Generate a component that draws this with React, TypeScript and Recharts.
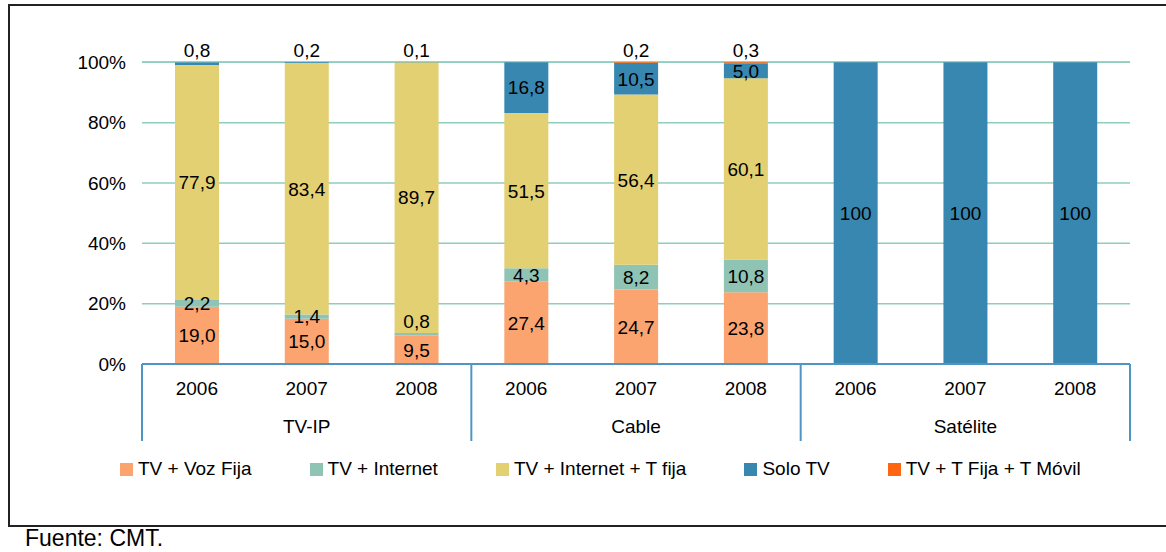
import React from 'react';
import { BarChart, Bar, XAxis, YAxis, CartesianGrid, LabelList } from 'recharts';

const years = ['2006', '2007', '2008', '2006', '2007', '2008', '2006', '2007', '2008'];
const groups = ['TV-IP', 'Cable', 'Satélite'];
const vozFija = [19.0, 15.0, 9.5, 27.4, 24.7, 23.8, 0, 0, 0];
const internet = [2.2, 1.4, 0.8, 4.3, 8.2, 10.8, 0, 0, 0];
const internetFija = [77.9, 83.4, 89.7, 51.5, 56.4, 60.1, 0, 0, 0];
const soloTV = [0.8, 0.2, 0.1, 16.8, 10.5, 5.0, 100, 100, 100];
const movil = [0, 0, 0, 0, 0.2, 0.3, 0, 0, 0];
const yTicks = [0, 20, 40, 60, 80, 100];
const source = 'Fuente: CMT.';

const SERIES = [
  { key: 'vozFija', name: 'TV + Voz Fija', color: '#FBA470', values: vozFija },
  { key: 'internet', name: 'TV + Internet', color: '#8FC4B5', values: internet },
  { key: 'internetFija', name: 'TV + Internet + T fija', color: '#E3D073', values: internetFija },
  { key: 'soloTV', name: 'Solo TV', color: '#3887B1', values: soloTV },
  { key: 'movil', name: 'TV + T Fija + T Móvil', color: '#FF6611', values: movil },
];

const data = years.map((y, i) => ({
  year: y,
  group: groups[Math.floor(i / 3)],
  vozFija: vozFija[i],
  internet: internet[i],
  internetFija: internetFija[i],
  soloTV: soloTV[i],
  movil: movil[i],
}));

const FONT = '"Liberation Sans", Arial, sans-serif';
const W = 1166;
const H = 552;
const MARGIN = { top: 62, right: 36, bottom: 111, left: 0 };
const Y_AXIS_W = 142;
const X_AXIS_H = 77;
const PLOT_W = W - MARGIN.left - MARGIN.right - Y_AXIS_W;
const BOX = '#4F94C2';

const fmt = (v: number) => (v === 100 ? '100' : v.toFixed(1).replace('.', ','));

const labelContent = (props: any) => {
  const { x, y, width, height, value } = props;
  let v: number = Array.isArray(value) ? Number(value[1]) - Number(value[0]) : Number(value);
  v = Math.round(v * 10) / 10;
  if (!v) return null;
  const top = Math.min(Number(y), Number(y) + Number(height));
  const h = Math.abs(Number(height));
  const cy = v < 1 ? top - 12 : top + h / 2;
  return (
    <text
      x={Number(x) + Number(width) / 2}
      y={cy}
      dy="0.36em"
      textAnchor="middle"
      fontSize={19}
      fontFamily={FONT}
      fill="#000"
    >
      {fmt(v)}
    </text>
  );
};

const YearTick = (props: any) => {
  const { x, y, payload, index } = props;
  const i = typeof index === 'number' ? index : payload.index;
  const bw = PLOT_W / years.length;
  const n = years.length;
  return (
    <g>
      <text x={x} y={y + 31} textAnchor="middle" fontSize={19} fontFamily={FONT} fill="#000">
        {payload.value}
      </text>
      {i % 3 === 1 && (
        <text x={x} y={y + 69} textAnchor="middle" fontSize={19} fontFamily={FONT} fill="#000">
          {groups[Math.floor(i / 3)]}
        </text>
      )}
      {i % 3 === 0 && (
        <line x1={x - bw / 2} x2={x - bw / 2} y1={y} y2={y + X_AXIS_H} stroke={BOX} strokeWidth={2} />
      )}
      {i === n - 1 && (
        <line x1={x + bw / 2} x2={x + bw / 2} y1={y} y2={y + X_AXIS_H} stroke={BOX} strokeWidth={2} />
      )}
    </g>
  );
};

export default function App() {
  return (
    <div
      style={{
        position: 'absolute',
        left: 0,
        top: 0,
        width: W,
        height: H,
        overflow: 'hidden',
        background: '#fff',
        fontFamily: FONT,
      }}
    >
      <div
        style={{
          position: 'absolute',
          left: 8,
          top: 4,
          width: 1200,
          height: 523,
          boxSizing: 'border-box',
          borderTop: '2px solid #222',
          borderLeft: '2px solid #222',
          borderBottom: '2px solid #222',
        }}
      />
      <div style={{ position: 'absolute', left: 0, top: 0 }}>
        <BarChart width={W} height={H} data={data} margin={MARGIN} barSize={44}>
          <CartesianGrid horizontal vertical={false} stroke="#8FCDBF" strokeWidth={1.5} />
          <YAxis
            type="number"
            domain={[0, 100]}
            ticks={yTicks}
            width={Y_AXIS_W}
            axisLine={false}
            tickLine={false}
            tickSize={0}
            tickMargin={16}
            tickFormatter={(v: number) => `${v}%`}
            tick={{ fontSize: 19, fill: '#000', fontFamily: FONT }}
          />
          <XAxis
            dataKey="year"
            height={X_AXIS_H}
            interval={0}
            axisLine={{ stroke: BOX, strokeWidth: 2 }}
            tickLine={false}
            tickSize={0}
            tickMargin={0}
            tick={<YearTick />}
          />
          {SERIES.map((s) => (
            <Bar key={s.key} dataKey={s.key} name={s.name} stackId="a" fill={s.color} isAnimationActive={false}>
              <LabelList dataKey={s.key} content={labelContent} />
            </Bar>
          ))}
        </BarChart>
      </div>
      <div
        style={{
          position: 'absolute',
          left: 120,
          top: 458,
          height: 22,
          display: 'flex',
          alignItems: 'center',
          gap: 58,
          fontSize: 19,
          color: '#000',
          whiteSpace: 'nowrap',
        }}
      >
        {SERIES.map((s) => (
          <div key={s.key} style={{ display: 'flex', alignItems: 'center' }}>
            <span style={{ display: 'inline-block', width: 13, height: 13, background: s.color, marginRight: 5 }} />
            <span>{s.name}</span>
          </div>
        ))}
      </div>
      <div
        style={{
          position: 'absolute',
          left: 25,
          top: 527,
          fontSize: 23,
          lineHeight: '23px',
          color: '#000',
          whiteSpace: 'nowrap',
        }}
      >
        {source}
      </div>
    </div>
  );
}
